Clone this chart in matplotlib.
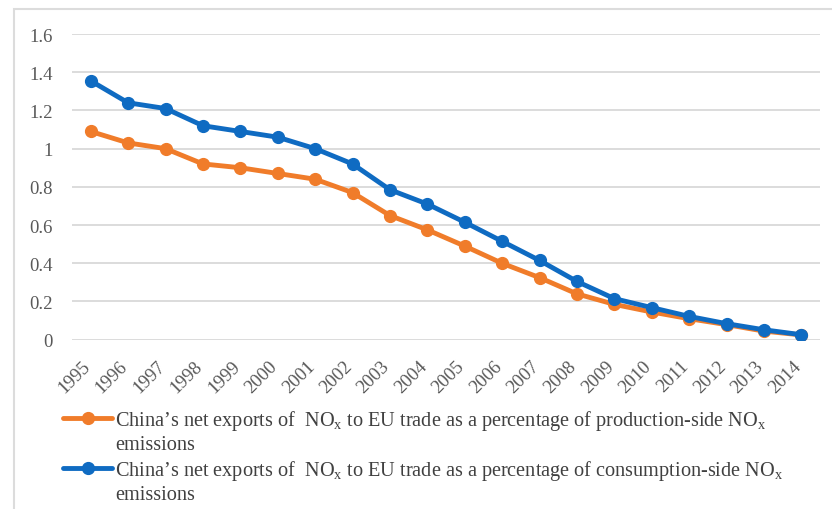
import matplotlib
matplotlib.use("Agg")
import matplotlib.pyplot as plt
import matplotlib.transforms as mtransforms
from matplotlib.patches import Rectangle

plt.rcParams['font.family'] = ['Liberation Serif', 'DejaVu Serif']
plt.rcParams['mathtext.fontset'] = 'custom'
plt.rcParams['mathtext.rm'] = 'Liberation Serif'

years = [str(y) for y in range(1995, 2015)]
production_side = [1.09, 1.03, 1.00, 0.92, 0.90, 0.87, 0.84, 0.77, 0.65, 0.575,
                   0.49, 0.40, 0.325, 0.24, 0.185, 0.145, 0.11, 0.079, 0.045, 0.025]
consumption_side = [1.355, 1.24, 1.21, 1.12, 1.09, 1.06, 1.00, 0.92, 0.785, 0.71,
                    0.615, 0.515, 0.415, 0.305, 0.215, 0.168, 0.122, 0.084, 0.052, 0.026]
yticks = [0, 0.2, 0.4, 0.6, 0.8, 1, 1.2, 1.4, 1.6]
ytick_labels = ['0', '0.2', '0.4', '0.6', '0.8', '1', '1.2', '1.4', '1.6']

# legend labels: first line goes in the legend, the wrapped word goes underneath
label_prod = ("China\u2019s net exports of  NO$_\\mathrm{x}$ to EU trade as a percentage "
              "of production-side NO$_\\mathrm{x}$")
label_cons = ("China\u2019s net exports of  NO$_\\mathrm{x}$ to EU trade as a percentage "
              "of consumption-side NO$_\\mathrm{x}$")
wrap_word = "emissions"

orange = '#F07C2A'
blue = '#0F6BC2'

W, H = 832, 510
fig = plt.figure(figsize=(W / 100, H / 100), dpi=100)
ax = fig.add_axes([72 / W, 1 - 340.7 / H, (820 - 72) / W, (340.7 - 35) / H])

x = list(range(len(years)))
ax.plot(x, production_side, color=orange, lw=3.5, marker='o', ms=8.5,
        label=label_prod, solid_capstyle='round')
ax.plot(x, consumption_side, color=blue, lw=3.5, marker='o', ms=8.5,
        label=label_cons, solid_capstyle='round')

ax.set_xlim(-0.5, len(years) - 0.5)
ax.set_ylim(0, 1.6)
ax.set_yticks(yticks)
ax.set_yticklabels(ytick_labels)
ax.set_xticks(x)
ax.set_xticklabels(years, rotation=45, ha='right', va='center', rotation_mode='anchor')
ax.tick_params(axis='both', length=0, labelsize=13.5, colors='#595959')
ax.tick_params(axis='y', pad=14)
ax.tick_params(axis='x', pad=17)
shift = mtransforms.ScaledTranslation(-3 / 100, 0, fig.dpi_scale_trans)
for lab in ax.get_xticklabels():
    lab.set_transform(lab.get_transform() + shift)
ax.yaxis.grid(True, color='#d9d9d9', lw=1.3)
ax.set_axisbelow(True)
for s in ax.spines.values():
    s.set_visible(False)

fs = 14.6
leg = fig.legend(loc='upper left', bbox_to_anchor=(63 / W, 1 - 409 / H),
                 frameon=False, fontsize=fs, handlelength=2.42,
                 handletextpad=0.15, labelspacing=1.28, borderaxespad=0,
                 borderpad=0)
for t in leg.get_texts():
    t.set_color('#404040')

# put the wrapped word under each legend line
fig.canvas.draw()
renderer = fig.canvas.get_renderer()
for t in leg.get_texts():
    bb = t.get_window_extent(renderer)
    fig.text(bb.x0 / W, (bb.y0 - 22) / H, wrap_word, fontsize=fs,
             color='#404040', ha='left', va='bottom')

fig.patches.append(Rectangle((14 / W, -0.1), 1.2, 1 - 10 / H + 0.1,
                             transform=fig.transFigure, fill=False,
                             edgecolor='#dcdcdc', lw=1.5))

fig.savefig('out.png', dpi=100)
